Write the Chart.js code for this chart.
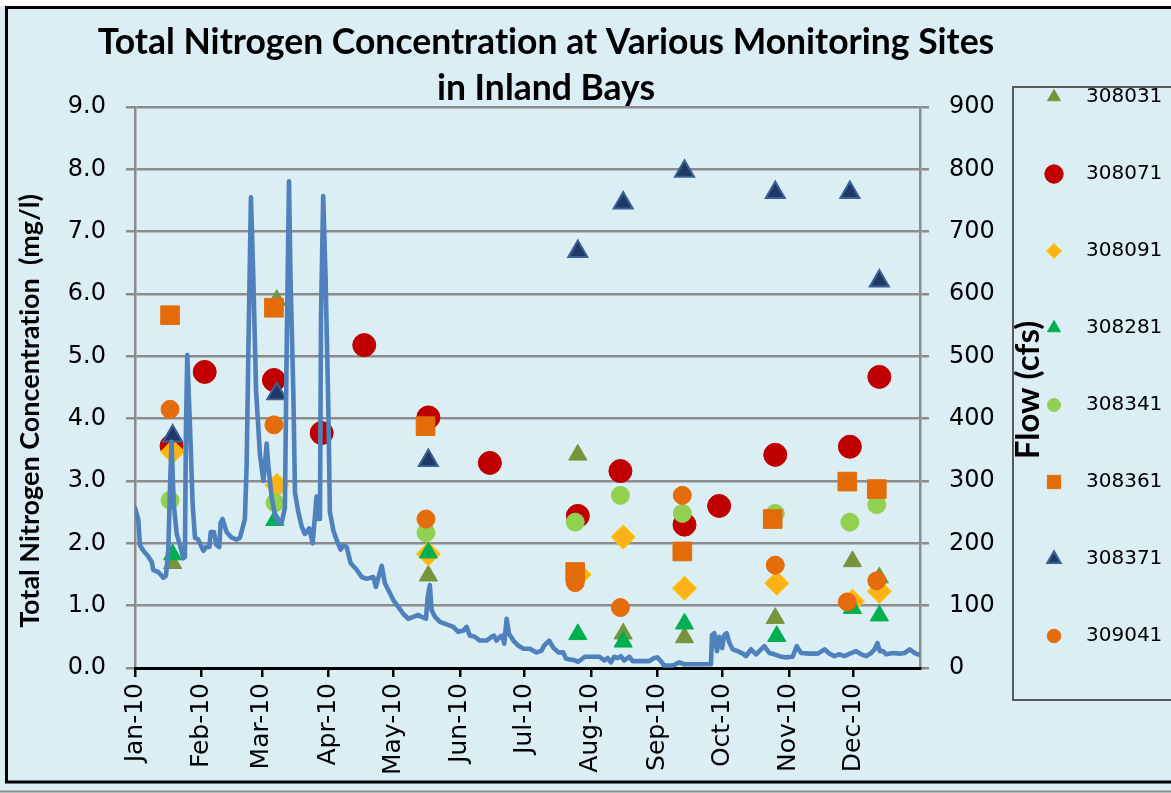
<!DOCTYPE html>
<html>
<head>
<meta charset="utf-8">
<script src="https://cdn.jsdelivr.net/npm/chart.js@4.4.0/dist/chart.umd.min.js"></script>
<style>
html,body{margin:0;padding:0;background:#ffffff;overflow:hidden}
canvas{display:block}
</style>
</head>
<body>
<canvas id="c" width="1171" height="793" style="width:1171px;height:793px"></canvas>
<script>
// ---------- DATA ----------
// x values are day-of-year 2010 (0 = 1 Jan 2010)
const monthStartDays = [0, 31, 59, 90, 120, 151, 181, 212, 243, 273, 304, 334];
const monthLabels = ['Jan-10','Feb-10','Mar-10','Apr-10','May-10','Jun-10','Jul-10','Aug-10','Sep-10','Oct-10','Nov-10','Dec-10'];

const siteNames = ['308031','308071','308091','308281','308341','308361','308371','309041'];

// Total nitrogen (mg/l) per site
const days308031 = [17.5, 65.9, 136.4, 205.9, 227, 255.5, 297.7, 333.6, 346.1];
const tn308031   = [1.68, 5.90, 1.48, 3.42, 0.55, 0.49, 0.80, 1.71, 1.45];

const days308071 = [17, 32.4, 64.6, 86.8, 106.6, 136.4, 165, 205.9, 225.7, 255.5, 271.6, 297.7, 332.4, 346.1];
const tn308071   = [3.56, 4.75, 4.62, 3.77, 5.18, 4.02, 3.29, 2.44, 3.16, 2.30, 2.60, 3.42, 3.55, 4.67];

const days308091 = [17.5, 66, 136.4, 206.5, 227, 255.5, 298.4, 333.6, 346.1];
const tn308091   = [3.47, 2.93, 1.83, 1.50, 2.10, 1.28, 1.36, 1.07, 1.23];

const days308281 = [17.5, 65, 136.4, 205.9, 227, 255.5, 298.4, 333.6, 346.1];
const tn308281   = [1.82, 2.37, 1.85, 0.54, 0.42, 0.71, 0.51, 0.96, 0.84];

const days308341 = [16.3, 65.1, 135.3, 204.7, 225.7, 254.5, 297.7, 332.4, 344.9];
const tn308341   = [2.69, 2.65, 2.17, 2.34, 2.77, 2.48, 2.48, 2.34, 2.62];

const days308361 = [16.3, 64.6, 135.1, 204.7, 254.5, 296.5, 331.2, 344.9];
const tn308361   = [5.66, 5.78, 3.88, 1.54, 1.87, 2.39, 2.99, 2.87];

const days308371 = [17.5, 65.9, 136.4, 205.9, 227, 255.5, 297.7, 332.4, 346.1];
const tn308371   = [3.72, 4.40, 3.33, 6.68, 7.46, 7.97, 7.63, 7.63, 6.21];

const days309041 = [16.3, 64.6, 135.3, 204.7, 225.7, 254.5, 297.7, 331.2, 344.9];
const tn309041   = [4.15, 3.90, 2.39, 1.37, 0.97, 2.77, 1.65, 1.06, 1.40];

// Flow (cfs), right axis
const flowDays = [
  0,1.5,2.3,3.9,6.2,7.8,8.5,10.8,13.2,14.4,15.5,16.3,17,18,19.4,20.9,22.5,23.2,23.7,24.3,25.6,26.8,27.9,29.4,
  31.8,33,34.6,35.2,36.7,37.9,39.2,39.8,40.7,42.6,44.2,45,47.3,48.8,51.1,51.9,52.7,53.9,55,56.3,58.1,
  59.7,60.4,61.2,62,63.5,65.1,66.6,68.2,69.7,70.5,71.6,72.3,73.6,74.4,75.9,77.5,79,81,82.6,83.7,84.4,85.2,86,86.5,87.5,88.6,89.9,
  90.6,92.2,94,95.6,96.9,98.4,100.3,103,105.4,107.7,110.8,112,113.1,114.7,116.2,117.8,
  120.1,122.4,124.7,127.1,129.4,131.7,133.3,135.3,136.1,137.1,137.9,139.5,141.8,144.9,148,
  150.3,152.6,154.2,155.7,158,160.4,163.5,165.8,166.9,168.1,169.7,170.8,171.7,172.8,173.9,175.9,178.2,
  180.5,183.6,186.7,189.1,190.2,192.6,194.4,196.8,199.1,200.4,203.8,206.1,209.2,
  213.1,216,218.2,219.7,221.3,222.8,224.4,225.9,227.5,229.8,231.4,239.1,241.4,
  243,244.5,246.1,250,253.1,255.4,267.8,268.3,269.4,270.6,271.7,
  273,274,275.1,276.4,277.9,280.2,282.6,284.1,286.4,288.8,291.1,292.6,295,297.3,299.6,302.7,
  305.8,307.7,309.7,313.6,317.5,320.6,322.9,325.2,327.6,329.9,333,
  335.3,337.7,340,342.3,343.9,345.2,346.3,347.8,349.3,352.4,355.5,357.8,360.2,362.5,364.8
];
const flowCfs = [
  257,239,197,188,179,170,157,154,145,148,191,294,363,263,215,197,176,178,384,502,384,263,209,206,
  188,194,194,218,218,197,194,233,239,218,212,209,206,209,239,324,505,755,627,445,342,
  300,324,360,324,275,245,233,233,257,505,781,627,445,281,251,227,215,224,200,245,275,239,239,566,757,627,415,
  251,221,203,190,197,194,168,158,146,143,146,130,144,164,136,125,
  109,98,87,79,82,85,82,79,114,133,93,82,74,70,66,
  58,60,66,52,50,44,44,50,52,44,50,52,39,79,55,44,36,
  31,31,25,28,36,44,33,25,25,15,13,10,18,
  18,18,12,16,9,18,16,19,12,18,11,11,16,
  17,11,4,4,9,6,6,53,56,27,50,
  32,53,56,40,30,27,23,19,30,22,30,35,24,22,19,17,
  18,35,24,23,23,30,23,19,22,19,24,
  27,22,19,24,30,40,27,27,22,24,23,24,30,24,21
];

// ---------- STYLES ----------
const BG = '#DBEEF4';
const GRID = '#8C8C8C';
const siteDays = [days308031, days308071, days308091, days308281, days308341, days308361, days308371, days309041];
const siteTN   = [tn308031, tn308071, tn308091, tn308281, tn308341, tn308361, tn308371, tn309041];
const siteStyles = [
  {pointStyle:'triangle', r:10.5, lr:7.5, fill:'#77933C', stroke:'#77933C', bw:1},
  {pointStyle:'circle',   r:11.5, lr:9.2, fill:'#C00000', stroke:'#C00000', bw:1},
  {pointStyle:'rectRot',  r:11.5, lr:7,   fill:'#FBB117', stroke:'#FFC000', bw:1.5},
  {pointStyle:'triangle', r:10.5, lr:7.5, fill:'#00B050', stroke:'#00B050', bw:1},
  {pointStyle:'circle',   r:9,    lr:6.5, fill:'#92D050', stroke:'#92D050', bw:1},
  {pointStyle:'rect',     r:13.2, lr:9.4, fill:'#E36C09', stroke:'#E36C09', bw:1},
  {pointStyle:'triangle', r:11,   lr:7.8, fill:'#1F3864', stroke:'#3B6298', bw:2},
  {pointStyle:'circle',   r:9,    lr:6.8, fill:'#E46C0A', stroke:'#E46C0A', bw:1}
];

const siteDatasets = siteNames.map((name, i) => ({
  type: 'scatter',
  label: name,
  data: siteDays[i].map((d, k) => ({x: d, y: siteTN[i][k]})),
  yAxisID: 'y',
  pointStyle: siteStyles[i].pointStyle,
  pointRadius: siteStyles[i].r,
  pointHoverRadius: siteStyles[i].r,
  backgroundColor: siteStyles[i].fill,
  borderColor: siteStyles[i].stroke,
  borderWidth: siteStyles[i].bw,
  order: siteNames.length - i
}));

const flowDataset = {
  type: 'line',
  label: 'Flow',
  data: flowDays.map((d, k) => ({x: d, y: flowCfs[k]})),
  yAxisID: 'y1',
  borderColor: '#4F81BD',
  borderWidth: 4.6,
  pointRadius: 0,
  tension: 0,
  borderJoinStyle: 'round',
  borderCapStyle: 'round',
  fill: false,
  order: 0
};

// ---------- DECORATION PLUGIN ----------
const decor = {
  id: 'decor',
  beforeDraw(chart) {
    const ctx = chart.ctx;
    const W = chart.width, H = chart.height;
    if ('textRendering' in ctx) ctx.textRendering = 'optimizeSpeed';
    ctx.save();
    ctx.fillStyle = '#ffffff';
    ctx.fillRect(0, 0, W, H);
    ctx.fillStyle = BG;
    ctx.fillRect(0, 6, W, H - 6);
    ctx.strokeStyle = '#000000';
    ctx.lineWidth = 3;
    ctx.beginPath();
    ctx.moveTo(W + 5, 7.5);
    ctx.lineTo(6.5, 7.5);
    ctx.lineTo(6.5, 782);
    ctx.lineTo(W + 5, 782);
    ctx.stroke();
    ctx.strokeStyle = GRID;
    ctx.lineWidth = 2;
    ctx.beginPath();
    ctx.moveTo(0, 791.5);
    ctx.lineTo(W, 791.5);
    ctx.stroke();
    ctx.restore();
  },
  afterDraw(chart) {
    const ctx = chart.ctx;
    ctx.save();
    // axis titles
    ctx.fillStyle = '#000000';
    ctx.textAlign = 'center';
    ctx.textBaseline = 'middle';
    ctx.font = 'bold 27px Lato';
    ctx.save();
    ctx.translate(30, 411);
    ctx.rotate(-Math.PI / 2);
    ctx.fillText('Total Nitrogen Concentration  (mg/l)', 0, 0);
    ctx.restore();
    ctx.font = 'bold 33px Lato';
    ctx.save();
    ctx.translate(1028, 390);
    ctx.rotate(-Math.PI / 2);
    ctx.fillText('Flow (cfs)', 0, 0);
    ctx.restore();

    // legend box
    ctx.strokeStyle = '#595959';
    ctx.lineWidth = 2;
    ctx.strokeRect(1013, 87, 200, 613);
    // legend entries
    ctx.font = '20px "DejaVu Sans"';
    ctx.textAlign = 'left';
    ctx.textBaseline = 'middle';
    siteNames.forEach((name, i) => {
      const y = 97 + 77 * i;
      const st = siteStyles[i];
      ctx.fillStyle = st.fill;
      ctx.strokeStyle = st.stroke;
      ctx.lineWidth = st.bw;
      Chart.helpers.drawPoint(ctx, {pointStyle: st.pointStyle, radius: st.lr, rotation: 0, borderWidth: st.bw}, 1054, y);
      ctx.fillStyle = '#000000';
      ctx.fillText(name, 1086, y);
    });
    ctx.restore();
  }
};

// ---------- CHART ----------
new Chart(document.getElementById('c'), {
  type: 'scatter',
  data: { datasets: [flowDataset, ...siteDatasets] },
  options: {
    responsive: false,
    animation: false,
    devicePixelRatio: 1,
    events: [],
    layout: { padding: {left: 0, right: 79, top: 0, bottom: 0} },
    plugins: {
      legend: { display: false },
      tooltip: { enabled: false },
      title: {
        display: true,
        text: ['Total Nitrogen Concentration at Various Monitoring Sites', 'in Inland Bays'],
        color: '#000000',
        font: { family: 'Lato', weight: 'bold', size: 35.5, lineHeight: 46 / 35.5 },
        padding: { top: 20, bottom: -5 }
      }
    },
    scales: {
      y: {
        type: 'linear',
        position: 'left',
        min: 0, max: 9,
        afterFit: s => { s.width = 135; },
        ticks: {
          stepSize: 1,
          padding: 20,
          color: '#000000',
          font: { family: 'DejaVu Sans', size: 24 },
          callback: v => Number(v).toFixed(1)
        },
        grid: { color: GRID, lineWidth: 2.5, tickLength: 9, drawTicks: true },
        border: { display: true, color: GRID, width: 2.5 }
      },
      y1: {
        type: 'linear',
        position: 'right',
        min: 0, max: 900,
        afterFit: s => { s.width = 172; },
        ticks: {
          stepSize: 100,
          padding: 20,
          color: '#000000',
          font: { family: 'DejaVu Sans', size: 24 }
        },
        grid: { drawOnChartArea: false, color: GRID, lineWidth: 2.5, tickLength: 9, drawTicks: true },
        border: { display: true, color: GRID, width: 2.5 }
      },
      x: {
        type: 'linear',
        position: 'bottom',
        min: 0, max: 365,
        afterFit: s => { s.height = 125; },
        afterBuildTicks: s => { s.ticks = monthStartDays.map(v => ({value: v})); },
        ticks: {
          autoSkip: false,
          minRotation: 90,
          maxRotation: 90,
          padding: 6,
          color: '#000000',
          font: { family: 'DejaVu Sans', size: 25 },
          callback: (v, i) => monthLabels[i]
        },
        grid: { drawOnChartArea: false, color: '#000000', lineWidth: 2.5, tickLength: 9, drawTicks: true },
        border: { display: true, color: '#000000', width: 3 }
      }
    }
  },
  plugins: [decor]
});
</script>
</body>
</html>
